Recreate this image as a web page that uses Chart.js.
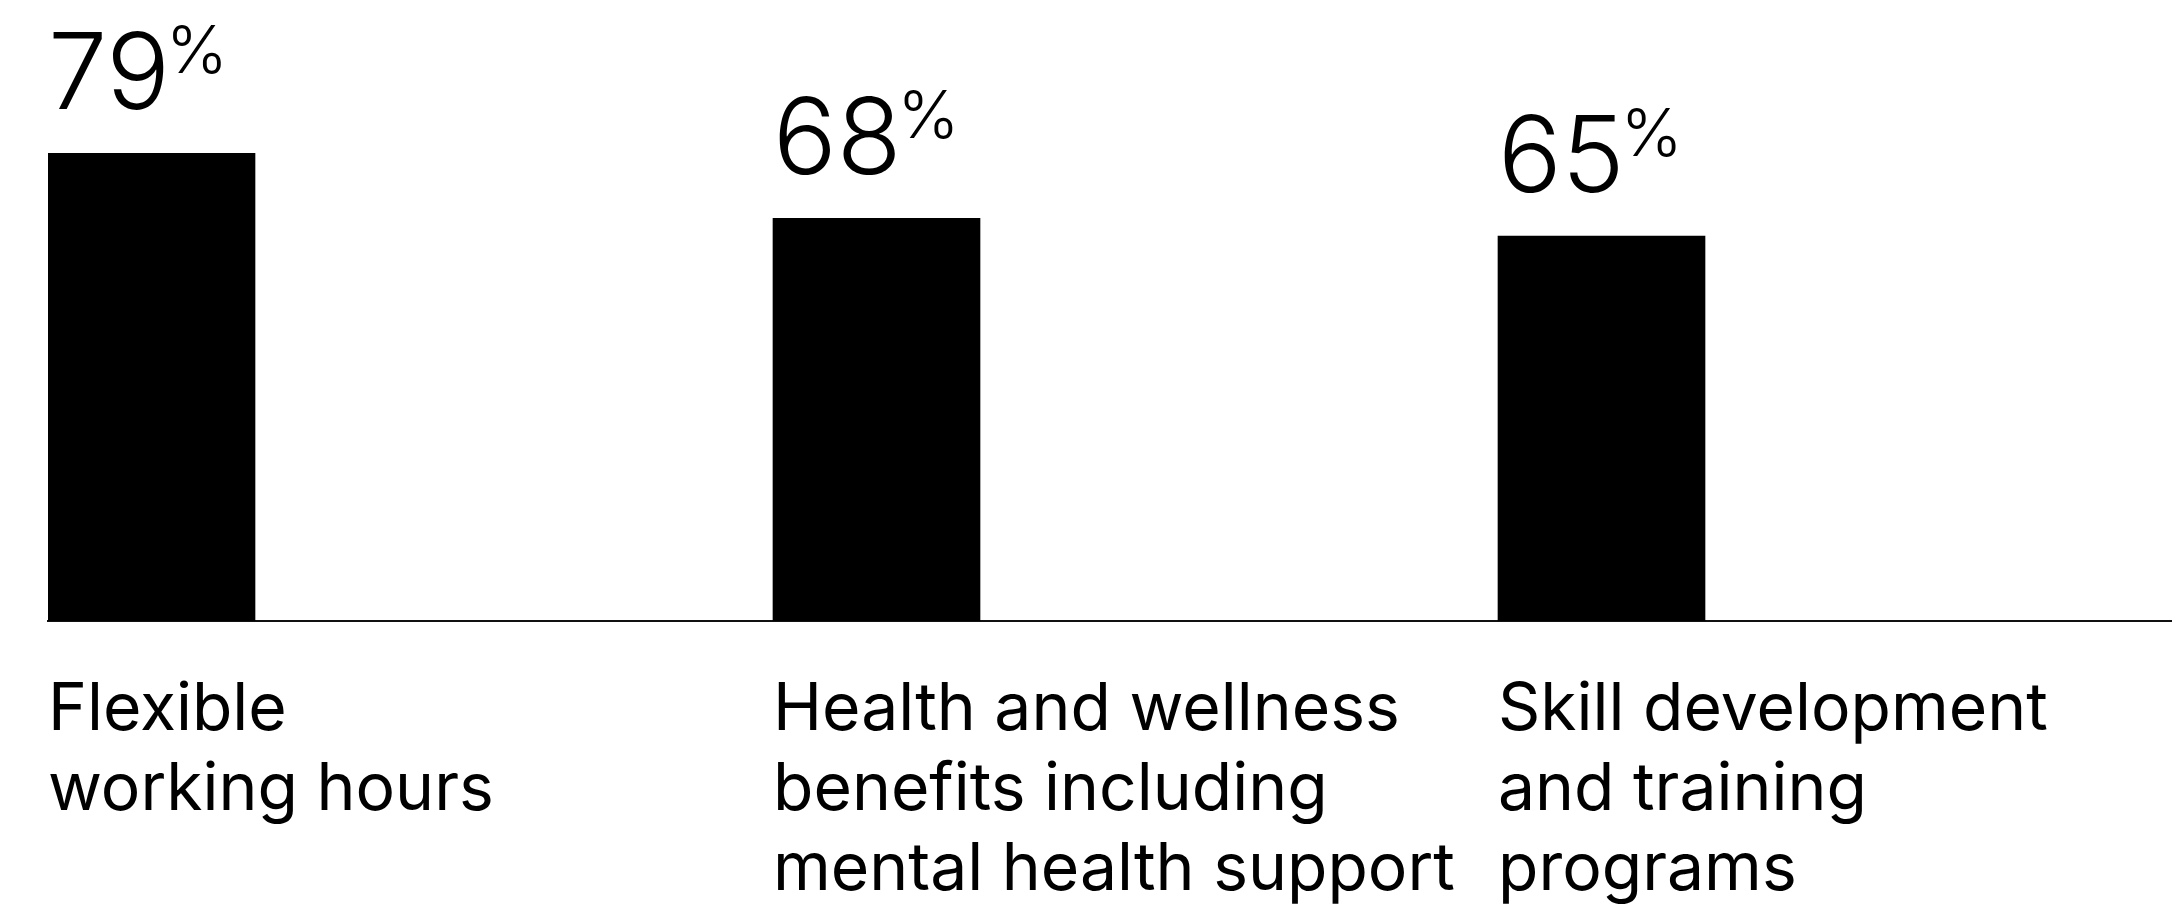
<!DOCTYPE html>
<html>
<head>
<meta charset="utf-8">
<script src="https://cdn.jsdelivr.net/npm/chart.js@4/dist/chart.umd.min.js"></script>
<style>
  html, body { margin: 0; padding: 0; background: #fff; overflow: hidden; }
  #wrap { position: relative; width: 2172px; height: 952px; }
</style>
</head>
<body>
<div id="wrap"><canvas id="c"></canvas></div>
<script>
// ---- data ----
const categories = [
  ["Flexible", "working hours"],
  ["Health and wellness", "benefits including", "mental health support"],
  ["Skill development", "and training", "programs"]
];
const values = [79, 68, 65];
const valueSuffix = "%";

// ---- layout constants ----
const BAR_W = 207;
const SPACING = 725;
const LEFT = 48;
const PLOT_W = 2172 - LEFT;
const xMin = -(BAR_W / 2) / SPACING;
const xMax = xMin + PLOT_W / SPACING;

const valueLabelPlugin = {
  id: 'valueLabels',
  afterDatasetsDraw(chart) {
    const ctx = chart.ctx;
    const meta = chart.getDatasetMeta(0);
    ctx.save();
    ctx.fillStyle = '#000';
    ctx.textAlign = 'left';
    ctx.textBaseline = 'alphabetic';
    meta.data.forEach((bar, i) => {
      const left = bar.x - bar.width / 2;
      const base = bar.y - 44;
      const txt = String(values[i]);
      ctx.font = '300 106px Inter';
      ctx.fillText(txt, left, base);
      const w = ctx.measureText(txt).width;
      ctx.font = '300 66px Inter';
      ctx.fillText(valueSuffix, left + w - 4, base - 36);
    });
    ctx.restore();
  }
};

new Chart(document.getElementById('c'), {
  type: 'bar',
  data: {
    datasets: [{
      data: values.map((v, i) => ({ x: i, y: v })),
      backgroundColor: '#000',
      borderWidth: 0,
      barThickness: BAR_W
    }]
  },
  options: {
    responsive: true,
    maintainAspectRatio: false,
    animation: false,
    layout: { padding: { left: LEFT, top: 29, right: 0, bottom: 0 } },
    plugins: { legend: { display: false }, tooltip: { enabled: false } },
    scales: {
      x: {
        type: 'linear',
        offset: false,
        bounds: 'data',
        min: xMin,
        max: xMax,
        afterBuildTicks: s => { s.ticks = categories.map((_, i) => ({ value: i })); },
        afterFit: s => { s.paddingLeft = 0; s.paddingRight = 0; },
        grid: { display: false },
        border: { display: true, color: '#111', width: 2 },
        ticks: {
          autoSkip: false,
          maxRotation: 0,
          minRotation: 0,
          align: 'start',
          labelOffset: -BAR_W / 2,
          padding: 41.5,
          color: '#000',
          font: { family: 'Inter', size: 66, lineHeight: 80 / 66 },
          callback: v => categories[v] || ''
        }
      },
      y: { display: false, min: 0, max: 100 }
    }
  },
  plugins: [valueLabelPlugin]
});
</script>
</body>
</html>
